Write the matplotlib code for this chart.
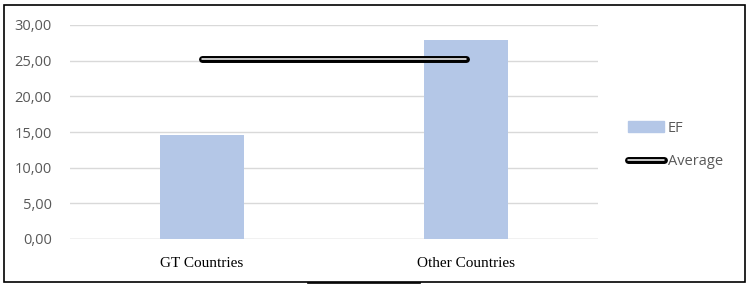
import matplotlib.pyplot as plt
from matplotlib.patches import Rectangle
from matplotlib.lines import Line2D

# Daten
categories = ['GT Countries', 'Other Countries']
ef_values = [14.6, 27.9]
average_value = 25.25
y_ticks = [0, 5, 10, 15, 20, 25, 30]

bar_color = '#B4C7E7'
grid_color = '#D9D9D9'
text_color = '#595959'

fig = plt.figure(figsize=(7.5, 2.87), dpi=100)
ax = fig.add_axes([70 / 750, 1 - 239 / 287, (598 - 70) / 750, (239 - 25) / 287])

x = list(range(len(categories)))
ax.bar(x, ef_values, width=0.32, color=bar_color, zorder=2, label='EF')

# Durchschnittslinie: schwarz mit weissem Kern
ax.plot(x, [average_value] * len(x), color='black', lw=5,
        solid_capstyle='round', zorder=3)
ax.plot(x, [average_value] * len(x), color='white', lw=1.1,
        solid_capstyle='round', zorder=4)

ax.set_xlim(-0.5, 1.5)
ax.set_ylim(0, 30)
ax.set_yticks(y_ticks)
ax.set_yticklabels([f'{v:.2f}'.replace('.', ',') for v in y_ticks],
                   fontsize=10.5, color=text_color, family='Open Sans')
ax.set_xticks(x)
ax.set_xticklabels(categories, fontsize=11, family='Liberation Serif', color='black')
ax.tick_params(axis='both', length=0)
ax.tick_params(axis='y', pad=13)
ax.tick_params(axis='x', pad=13)
ax.yaxis.grid(True, color=grid_color, lw=1, zorder=0)
for s in ax.spines.values():
    s.set_visible(False)
ax.axhline(0, color=grid_color, lw=1, zorder=1)

# Legende
handles = [Rectangle((0, 0), 1, 1, color=bar_color),
           (Line2D([], [], color='black', lw=5, solid_capstyle='round'),
            Line2D([], [], color='white', lw=1.1, solid_capstyle='round'))]
leg = fig.legend(handles, ['EF', 'Average'], loc='center left',
                 bbox_to_anchor=(615 / 750, 1 - 145 / 287), frameon=False,
                 prop={'family': 'Open Sans', 'size': 10.5}, labelspacing=1.3,
                 handlelength=2.45, handletextpad=0.25)
for t in leg.get_texts():
    t.set_color(text_color)

# Rahmen
fig.add_artist(Rectangle((4 / 750, 1 - 282 / 287), 741 / 750, 277 / 287,
                         transform=fig.transFigure, fill=False,
                         edgecolor='black', lw=1.2))
fig.add_artist(Line2D([308 / 750, 420 / 750], [1 - 283 / 287] * 2,
                      transform=fig.transFigure, color='black', lw=1.2))

fig.savefig('out.png', dpi=100)
